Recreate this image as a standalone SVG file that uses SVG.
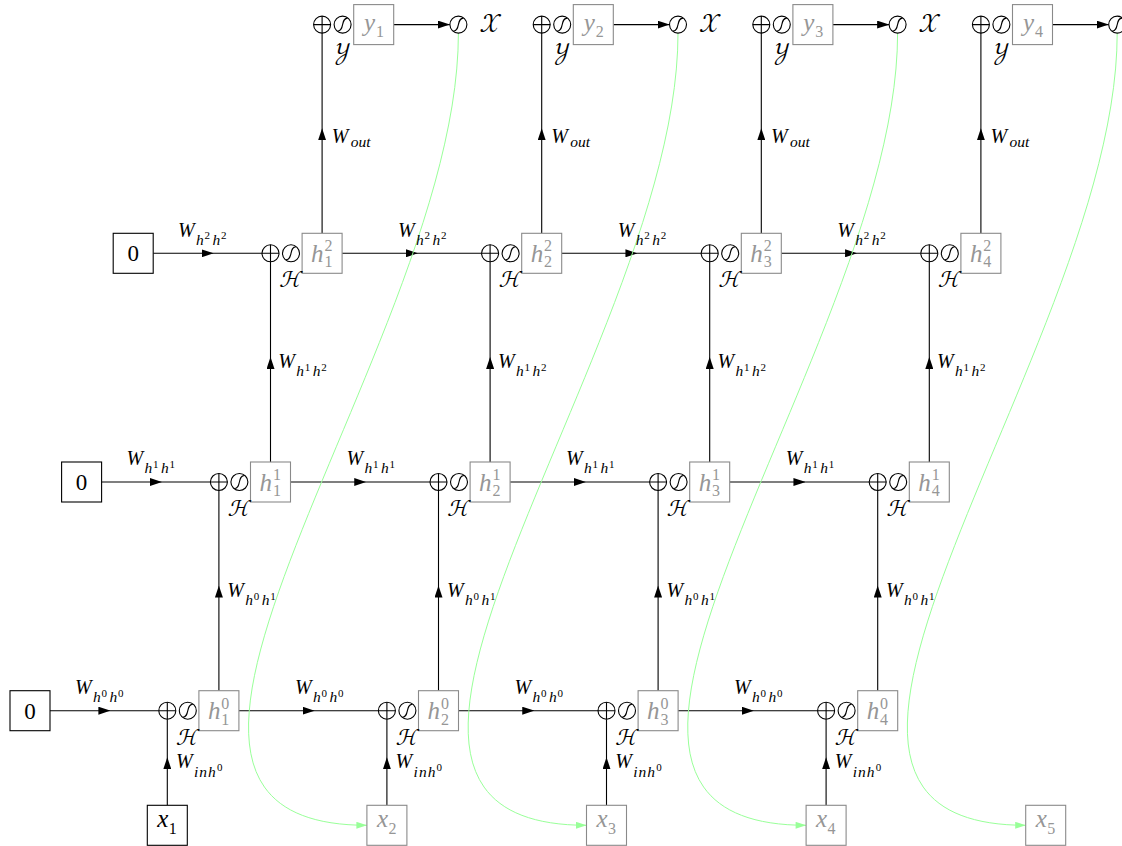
<svg xmlns="http://www.w3.org/2000/svg" xmlns:xlink="http://www.w3.org/1999/xlink" width="1122" height="846" viewBox="0 0 1122 846">
<style>
.ln{fill:none;stroke:#000;stroke-width:1.1}
.gr{fill:none;stroke:#99ff99;stroke-width:1}
.gb{fill:#fff;stroke:#8a8a8a;stroke-width:1.1}
.kb{fill:#fff;stroke:#000;stroke-width:1.1}
.bt{font-family:"Liberation Serif",serif;font-size:25px;font-style:italic;fill:#969696}
.bk{fill:#000}
.bs{font-size:16px;font-style:normal}
.num{font-family:"Liberation Serif",serif;font-size:23px;fill:#000}
.lb{font-family:"Liberation Serif",serif;font-size:20px;font-style:italic;fill:#000}
.ls{font-size:15.5px}
.lss{font-size:11px;font-style:normal}
.cal{font-family:"Latin Modern Math","STIX Two Math","Noto Sans Math","DejaVu Serif","DejaVu Sans",serif;font-size:23px;fill:#000}
.cal2{font-family:"Latin Modern Math","STIX Two Math","Noto Sans Math","DejaVu Serif","DejaVu Sans",serif;font-size:26px;fill:#000}
</style>
<defs>
<marker id="ah" viewBox="0 0 12 8" refX="12" refY="4" markerWidth="12" markerHeight="8" markerUnits="userSpaceOnUse" orient="auto"><path d="M0,0 L12,4 L0,8 Z" fill="#000"/></marker>
<marker id="ahg" viewBox="0 0 12 8" refX="12" refY="4" markerWidth="12" markerHeight="7" markerUnits="userSpaceOnUse" orient="auto"><path d="M0,0 L12,4 L0,8 Z" fill="#99ff99"/></marker>
<g id="plus"><circle r="8.5" fill="#fff" stroke="#000" stroke-width="1.1"/><path d="M-8.5,0 H8.5 M0,-8.5 V8.5" stroke="#000" stroke-width="1.1"/></g>
<g id="sig"><circle r="8.5" fill="#fff" stroke="#000" stroke-width="1.1"/><path d="M-5,6.5 C2.2,6.5 -2.2,-6.5 5,-6.5" fill="none" stroke="#000" stroke-width="1.1"/></g>
</defs>
<rect width="1122" height="846" fill="#fff"/>

<g id="connectors">
<polyline class="ln" marker-mid="url(#ah)" points="50,710.7 110.4,710.7 158.8,710.7"/>
<polyline class="ln" marker-mid="url(#ah)" points="238.9,710.7 314.65,710.7 378.4,710.7"/>
<polyline class="ln" marker-mid="url(#ah)" points="458.5,710.7 534.25,710.7 598,710.7"/>
<polyline class="ln" marker-mid="url(#ah)" points="678.1,710.7 753.85,710.7 817.6,710.7"/>
<polyline class="ln" marker-mid="url(#ah)" points="101.6,482 162,482 210.4,482"/>
<polyline class="ln" marker-mid="url(#ah)" points="290.5,482 366.25,482 430,482"/>
<polyline class="ln" marker-mid="url(#ah)" points="510.1,482 585.85,482 649.6,482"/>
<polyline class="ln" marker-mid="url(#ah)" points="729.7,482 805.45,482 869.2,482"/>
<polyline class="ln" marker-mid="url(#ah)" points="153.2,253.3 213.6,253.3 262,253.3"/>
<polyline class="ln" marker-mid="url(#ah)" points="342.1,253.3 417.85,253.3 481.6,253.3"/>
<polyline class="ln" marker-mid="url(#ah)" points="561.7,253.3 637.45,253.3 701.2,253.3"/>
<polyline class="ln" marker-mid="url(#ah)" points="781.3,253.3 857.05,253.3 920.8,253.3"/>
<polyline class="ln" marker-mid="url(#ah)" points="167.3,805.3 167.3,757.2 167.3,719.2"/>
<polyline class="ln" marker-mid="url(#ah)" points="386.9,805.3 386.9,757.2 386.9,719.2"/>
<polyline class="ln" marker-mid="url(#ah)" points="606.5,805.3 606.5,757.2 606.5,719.2"/>
<polyline class="ln" marker-mid="url(#ah)" points="826.1,805.3 826.1,757.2 826.1,719.2"/>
<polyline class="ln" marker-mid="url(#ah)" points="218.9,690.7 218.9,585.6 218.9,490.5"/>
<polyline class="ln" marker-mid="url(#ah)" points="438.5,690.7 438.5,585.6 438.5,490.5"/>
<polyline class="ln" marker-mid="url(#ah)" points="658.1,690.7 658.1,585.6 658.1,490.5"/>
<polyline class="ln" marker-mid="url(#ah)" points="877.7,690.7 877.7,585.6 877.7,490.5"/>
<polyline class="ln" marker-mid="url(#ah)" points="270.5,462 270.5,356.9 270.5,261.8"/>
<polyline class="ln" marker-mid="url(#ah)" points="490.1,462 490.1,356.9 490.1,261.8"/>
<polyline class="ln" marker-mid="url(#ah)" points="709.7,462 709.7,356.9 709.7,261.8"/>
<polyline class="ln" marker-mid="url(#ah)" points="929.3,462 929.3,356.9 929.3,261.8"/>
<polyline class="ln" marker-mid="url(#ah)" points="322.1,233.3 322.1,128.2 322.1,33.1"/>
<polyline class="ln" marker-mid="url(#ah)" points="541.7,233.3 541.7,128.2 541.7,33.1"/>
<polyline class="ln" marker-mid="url(#ah)" points="761.3,233.3 761.3,128.2 761.3,33.1"/>
<polyline class="ln" marker-mid="url(#ah)" points="980.9,233.3 980.9,128.2 980.9,33.1"/>
<line class="ln" marker-end="url(#ah)" x1="393.7" y1="24.6" x2="449.9" y2="24.6"/>
<line class="ln" marker-end="url(#ah)" x1="613.3" y1="24.6" x2="669.5" y2="24.6"/>
<line class="ln" marker-end="url(#ah)" x1="832.9" y1="24.6" x2="889.1" y2="24.6"/>
<line class="ln" marker-end="url(#ah)" x1="1052.5" y1="24.6" x2="1108.7" y2="24.6"/>
<path class="gr" marker-end="url(#ahg)" d="M458.4,33.1 C458.4,345 54.9,825.3 366.9,825.3"/>
<path class="gr" marker-end="url(#ahg)" d="M678,33.1 C678,345 274.5,825.3 586.5,825.3"/>
<path class="gr" marker-end="url(#ahg)" d="M897.6,33.1 C897.6,345 494.1,825.3 806.1,825.3"/>
<path class="gr" marker-end="url(#ahg)" d="M1117.2,33.1 C1117.2,345 713.7,825.3 1025.7,825.3"/>

<text class="lb" transform="translate(74.9,694.1)"><tspan x="0" y="0">W</tspan><tspan class="ls" x="18" y="8">h</tspan><tspan class="lss" x="26.5" y="2.5">0</tspan><tspan class="ls" x="34.5" y="8">h</tspan><tspan class="lss" x="43" y="2.5">0</tspan></text>
<text class="lb" transform="translate(294.9,694.1)"><tspan x="0" y="0">W</tspan><tspan class="ls" x="18" y="8">h</tspan><tspan class="lss" x="26.5" y="2.5">0</tspan><tspan class="ls" x="34.5" y="8">h</tspan><tspan class="lss" x="43" y="2.5">0</tspan></text>
<text class="lb" transform="translate(514.5,694.1)"><tspan x="0" y="0">W</tspan><tspan class="ls" x="18" y="8">h</tspan><tspan class="lss" x="26.5" y="2.5">0</tspan><tspan class="ls" x="34.5" y="8">h</tspan><tspan class="lss" x="43" y="2.5">0</tspan></text>
<text class="lb" transform="translate(734.1,694.1)"><tspan x="0" y="0">W</tspan><tspan class="ls" x="18" y="8">h</tspan><tspan class="lss" x="26.5" y="2.5">0</tspan><tspan class="ls" x="34.5" y="8">h</tspan><tspan class="lss" x="43" y="2.5">0</tspan></text>
<text class="lb" transform="translate(126.5,465.4)"><tspan x="0" y="0">W</tspan><tspan class="ls" x="18" y="8">h</tspan><tspan class="lss" x="26.5" y="2.5">1</tspan><tspan class="ls" x="34.5" y="8">h</tspan><tspan class="lss" x="43" y="2.5">1</tspan></text>
<text class="lb" transform="translate(346.5,465.4)"><tspan x="0" y="0">W</tspan><tspan class="ls" x="18" y="8">h</tspan><tspan class="lss" x="26.5" y="2.5">1</tspan><tspan class="ls" x="34.5" y="8">h</tspan><tspan class="lss" x="43" y="2.5">1</tspan></text>
<text class="lb" transform="translate(566.1,465.4)"><tspan x="0" y="0">W</tspan><tspan class="ls" x="18" y="8">h</tspan><tspan class="lss" x="26.5" y="2.5">1</tspan><tspan class="ls" x="34.5" y="8">h</tspan><tspan class="lss" x="43" y="2.5">1</tspan></text>
<text class="lb" transform="translate(785.7,465.4)"><tspan x="0" y="0">W</tspan><tspan class="ls" x="18" y="8">h</tspan><tspan class="lss" x="26.5" y="2.5">1</tspan><tspan class="ls" x="34.5" y="8">h</tspan><tspan class="lss" x="43" y="2.5">1</tspan></text>
<text class="lb" transform="translate(178.1,236.7)"><tspan x="0" y="0">W</tspan><tspan class="ls" x="18" y="8">h</tspan><tspan class="lss" x="26.5" y="2.5">2</tspan><tspan class="ls" x="34.5" y="8">h</tspan><tspan class="lss" x="43" y="2.5">2</tspan></text>
<text class="lb" transform="translate(398.1,236.7)"><tspan x="0" y="0">W</tspan><tspan class="ls" x="18" y="8">h</tspan><tspan class="lss" x="26.5" y="2.5">2</tspan><tspan class="ls" x="34.5" y="8">h</tspan><tspan class="lss" x="43" y="2.5">2</tspan></text>
<text class="lb" transform="translate(617.7,236.7)"><tspan x="0" y="0">W</tspan><tspan class="ls" x="18" y="8">h</tspan><tspan class="lss" x="26.5" y="2.5">2</tspan><tspan class="ls" x="34.5" y="8">h</tspan><tspan class="lss" x="43" y="2.5">2</tspan></text>
<text class="lb" transform="translate(837.3,236.7)"><tspan x="0" y="0">W</tspan><tspan class="ls" x="18" y="8">h</tspan><tspan class="lss" x="26.5" y="2.5">2</tspan><tspan class="ls" x="34.5" y="8">h</tspan><tspan class="lss" x="43" y="2.5">2</tspan></text>

<text class="lb" transform="translate(176,768.3)"><tspan x="0" y="0">W</tspan><tspan class="ls" x="18" y="8.4" letter-spacing="1">inh</tspan><tspan class="lss" x="41" y="3">0</tspan></text>
<text class="lb" transform="translate(395.6,768.3)"><tspan x="0" y="0">W</tspan><tspan class="ls" x="18" y="8.4" letter-spacing="1">inh</tspan><tspan class="lss" x="41" y="3">0</tspan></text>
<text class="lb" transform="translate(615.2,768.3)"><tspan x="0" y="0">W</tspan><tspan class="ls" x="18" y="8.4" letter-spacing="1">inh</tspan><tspan class="lss" x="41" y="3">0</tspan></text>
<text class="lb" transform="translate(834.8,768.3)"><tspan x="0" y="0">W</tspan><tspan class="ls" x="18" y="8.4" letter-spacing="1">inh</tspan><tspan class="lss" x="41" y="3">0</tspan></text>
<text class="lb" transform="translate(227.3,596.6)"><tspan x="0" y="0">W</tspan><tspan class="ls" x="18" y="8.5">h</tspan><tspan class="lss" x="26.5" y="3">0</tspan><tspan class="ls" x="34.5" y="8.5">h</tspan><tspan class="lss" x="43" y="3">1</tspan></text>
<text class="lb" transform="translate(446.9,596.6)"><tspan x="0" y="0">W</tspan><tspan class="ls" x="18" y="8.5">h</tspan><tspan class="lss" x="26.5" y="3">0</tspan><tspan class="ls" x="34.5" y="8.5">h</tspan><tspan class="lss" x="43" y="3">1</tspan></text>
<text class="lb" transform="translate(666.5,596.6)"><tspan x="0" y="0">W</tspan><tspan class="ls" x="18" y="8.5">h</tspan><tspan class="lss" x="26.5" y="3">0</tspan><tspan class="ls" x="34.5" y="8.5">h</tspan><tspan class="lss" x="43" y="3">1</tspan></text>
<text class="lb" transform="translate(886.1,596.6)"><tspan x="0" y="0">W</tspan><tspan class="ls" x="18" y="8.5">h</tspan><tspan class="lss" x="26.5" y="3">0</tspan><tspan class="ls" x="34.5" y="8.5">h</tspan><tspan class="lss" x="43" y="3">1</tspan></text>
<text class="lb" transform="translate(278.3,367.9)"><tspan x="0" y="0">W</tspan><tspan class="ls" x="18" y="8.5">h</tspan><tspan class="lss" x="26.5" y="3">1</tspan><tspan class="ls" x="34.5" y="8.5">h</tspan><tspan class="lss" x="43" y="3">2</tspan></text>
<text class="lb" transform="translate(497.9,367.9)"><tspan x="0" y="0">W</tspan><tspan class="ls" x="18" y="8.5">h</tspan><tspan class="lss" x="26.5" y="3">1</tspan><tspan class="ls" x="34.5" y="8.5">h</tspan><tspan class="lss" x="43" y="3">2</tspan></text>
<text class="lb" transform="translate(717.5,367.9)"><tspan x="0" y="0">W</tspan><tspan class="ls" x="18" y="8.5">h</tspan><tspan class="lss" x="26.5" y="3">1</tspan><tspan class="ls" x="34.5" y="8.5">h</tspan><tspan class="lss" x="43" y="3">2</tspan></text>
<text class="lb" transform="translate(937.1,367.9)"><tspan x="0" y="0">W</tspan><tspan class="ls" x="18" y="8.5">h</tspan><tspan class="lss" x="26.5" y="3">1</tspan><tspan class="ls" x="34.5" y="8.5">h</tspan><tspan class="lss" x="43" y="3">2</tspan></text>
<text class="lb" transform="translate(331.7,143.3)"><tspan x="0" y="0">W</tspan><tspan class="ls" x="19" y="3.5">out</tspan></text>
<text class="lb" transform="translate(551.3,143.3)"><tspan x="0" y="0">W</tspan><tspan class="ls" x="19" y="3.5">out</tspan></text>
<text class="lb" transform="translate(770.9,143.3)"><tspan x="0" y="0">W</tspan><tspan class="ls" x="19" y="3.5">out</tspan></text>
<text class="lb" transform="translate(990.5,143.3)"><tspan x="0" y="0">W</tspan><tspan class="ls" x="19" y="3.5">out</tspan></text>
</g>

<g id="zero0" transform="translate(30,710.7)"><rect class="kb" x="-20" y="-20" width="40" height="40"/><text class="num" x="0" y="8" text-anchor="middle">0</text></g>
<g id="zero1" transform="translate(81.6,482)"><rect class="kb" x="-20" y="-20" width="40" height="40"/><text class="num" x="0" y="8" text-anchor="middle">0</text></g>
<g id="zero2" transform="translate(133.2,253.3)"><rect class="kb" x="-20" y="-20" width="40" height="40"/><text class="num" x="0" y="8" text-anchor="middle">0</text></g>

<g id="x1" transform="translate(167.3,825.3)"><rect class="kb" x="-20" y="-20" width="40" height="40"/><text class="bt bk"><tspan x="-10" y="2">x</tspan><tspan class="bs" x="1.5" y="9">1</tspan></text></g>
<g id="x2" transform="translate(386.9,825.3)"><rect class="gb" x="-20" y="-20" width="40" height="40"/><text class="bt"><tspan x="-10" y="2">x</tspan><tspan class="bs" x="1.5" y="9">2</tspan></text></g>
<g id="x3" transform="translate(606.5,825.3)"><rect class="gb" x="-20" y="-20" width="40" height="40"/><text class="bt"><tspan x="-10" y="2">x</tspan><tspan class="bs" x="1.5" y="9">3</tspan></text></g>
<g id="x4" transform="translate(826.1,825.3)"><rect class="gb" x="-20" y="-20" width="40" height="40"/><text class="bt"><tspan x="-10" y="2">x</tspan><tspan class="bs" x="1.5" y="9">4</tspan></text></g>
<g id="x5" transform="translate(1045.7,825.3)"><rect class="gb" x="-20" y="-20" width="40" height="40"/><text class="bt"><tspan x="-10" y="2">x</tspan><tspan class="bs" x="1.5" y="9">5</tspan></text></g>

<g id="h0_1" transform="translate(167.3,710.7)"><use href="#plus"/><use href="#sig" x="20.5"/><rect class="gb" x="31.6" y="-20" width="40" height="40"/><text class="bt"><tspan x="40.6" y="8.5">h</tspan><tspan class="bs" x="54" y="-2">0</tspan><tspan class="bs" x="54" y="14">1</tspan></text><text class="cal" x="21" y="34" text-anchor="middle">ℋ</text></g>
<g id="h0_2" transform="translate(386.9,710.7)"><use href="#plus"/><use href="#sig" x="20.5"/><rect class="gb" x="31.6" y="-20" width="40" height="40"/><text class="bt"><tspan x="40.6" y="8.5">h</tspan><tspan class="bs" x="54" y="-2">0</tspan><tspan class="bs" x="54" y="14">2</tspan></text><text class="cal" x="21" y="34" text-anchor="middle">ℋ</text></g>
<g id="h0_3" transform="translate(606.5,710.7)"><use href="#plus"/><use href="#sig" x="20.5"/><rect class="gb" x="31.6" y="-20" width="40" height="40"/><text class="bt"><tspan x="40.6" y="8.5">h</tspan><tspan class="bs" x="54" y="-2">0</tspan><tspan class="bs" x="54" y="14">3</tspan></text><text class="cal" x="21" y="34" text-anchor="middle">ℋ</text></g>
<g id="h0_4" transform="translate(826.1,710.7)"><use href="#plus"/><use href="#sig" x="20.5"/><rect class="gb" x="31.6" y="-20" width="40" height="40"/><text class="bt"><tspan x="40.6" y="8.5">h</tspan><tspan class="bs" x="54" y="-2">0</tspan><tspan class="bs" x="54" y="14">4</tspan></text><text class="cal" x="21" y="34" text-anchor="middle">ℋ</text></g>

<g id="h1_1" transform="translate(218.9,482)"><use href="#plus"/><use href="#sig" x="20.5"/><rect class="gb" x="31.6" y="-20" width="40" height="40"/><text class="bt"><tspan x="40.6" y="8.5">h</tspan><tspan class="bs" x="54" y="-2">1</tspan><tspan class="bs" x="54" y="14">1</tspan></text><text class="cal" x="21" y="34" text-anchor="middle">ℋ</text></g>
<g id="h1_2" transform="translate(438.5,482)"><use href="#plus"/><use href="#sig" x="20.5"/><rect class="gb" x="31.6" y="-20" width="40" height="40"/><text class="bt"><tspan x="40.6" y="8.5">h</tspan><tspan class="bs" x="54" y="-2">1</tspan><tspan class="bs" x="54" y="14">2</tspan></text><text class="cal" x="21" y="34" text-anchor="middle">ℋ</text></g>
<g id="h1_3" transform="translate(658.1,482)"><use href="#plus"/><use href="#sig" x="20.5"/><rect class="gb" x="31.6" y="-20" width="40" height="40"/><text class="bt"><tspan x="40.6" y="8.5">h</tspan><tspan class="bs" x="54" y="-2">1</tspan><tspan class="bs" x="54" y="14">3</tspan></text><text class="cal" x="21" y="34" text-anchor="middle">ℋ</text></g>
<g id="h1_4" transform="translate(877.7,482)"><use href="#plus"/><use href="#sig" x="20.5"/><rect class="gb" x="31.6" y="-20" width="40" height="40"/><text class="bt"><tspan x="40.6" y="8.5">h</tspan><tspan class="bs" x="54" y="-2">1</tspan><tspan class="bs" x="54" y="14">4</tspan></text><text class="cal" x="21" y="34" text-anchor="middle">ℋ</text></g>

<g id="h2_1" transform="translate(270.5,253.3)"><use href="#plus"/><use href="#sig" x="20.5"/><rect class="gb" x="31.6" y="-20" width="40" height="40"/><text class="bt"><tspan x="40.6" y="8.5">h</tspan><tspan class="bs" x="54" y="-2">2</tspan><tspan class="bs" x="54" y="14">1</tspan></text><text class="cal" x="21" y="34" text-anchor="middle">ℋ</text></g>
<g id="h2_2" transform="translate(490.1,253.3)"><use href="#plus"/><use href="#sig" x="20.5"/><rect class="gb" x="31.6" y="-20" width="40" height="40"/><text class="bt"><tspan x="40.6" y="8.5">h</tspan><tspan class="bs" x="54" y="-2">2</tspan><tspan class="bs" x="54" y="14">2</tspan></text><text class="cal" x="21" y="34" text-anchor="middle">ℋ</text></g>
<g id="h2_3" transform="translate(709.7,253.3)"><use href="#plus"/><use href="#sig" x="20.5"/><rect class="gb" x="31.6" y="-20" width="40" height="40"/><text class="bt"><tspan x="40.6" y="8.5">h</tspan><tspan class="bs" x="54" y="-2">2</tspan><tspan class="bs" x="54" y="14">3</tspan></text><text class="cal" x="21" y="34" text-anchor="middle">ℋ</text></g>
<g id="h2_4" transform="translate(929.3,253.3)"><use href="#plus"/><use href="#sig" x="20.5"/><rect class="gb" x="31.6" y="-20" width="40" height="40"/><text class="bt"><tspan x="40.6" y="8.5">h</tspan><tspan class="bs" x="54" y="-2">2</tspan><tspan class="bs" x="54" y="14">4</tspan></text><text class="cal" x="21" y="34" text-anchor="middle">ℋ</text></g>

<g id="y1" transform="translate(322.1,24.6)"><use href="#plus"/><use href="#sig" x="20.5"/><rect class="gb" x="31.6" y="-20" width="40" height="40"/><text class="bt"><tspan x="42" y="6">y</tspan><tspan class="bs" x="54" y="12">1</tspan></text><text class="cal2" x="20.5" y="36" text-anchor="middle">𝒴</text></g>
<g id="y2" transform="translate(541.7,24.6)"><use href="#plus"/><use href="#sig" x="20.5"/><rect class="gb" x="31.6" y="-20" width="40" height="40"/><text class="bt"><tspan x="42" y="6">y</tspan><tspan class="bs" x="54" y="12">2</tspan></text><text class="cal2" x="20.5" y="36" text-anchor="middle">𝒴</text></g>
<g id="y3" transform="translate(761.3,24.6)"><use href="#plus"/><use href="#sig" x="20.5"/><rect class="gb" x="31.6" y="-20" width="40" height="40"/><text class="bt"><tspan x="42" y="6">y</tspan><tspan class="bs" x="54" y="12">3</tspan></text><text class="cal2" x="20.5" y="36" text-anchor="middle">𝒴</text></g>
<g id="y4" transform="translate(980.9,24.6)"><use href="#plus"/><use href="#sig" x="20.5"/><rect class="gb" x="31.6" y="-20" width="40" height="40"/><text class="bt"><tspan x="42" y="6">y</tspan><tspan class="bs" x="54" y="12">4</tspan></text><text class="cal2" x="20.5" y="36" text-anchor="middle">𝒴</text></g>

<g id="X1" transform="translate(458.4,24.6)"><use href="#sig"/><text class="cal2" x="21" y="7.5">𝒳</text></g>
<g id="X2" transform="translate(678,24.6)"><use href="#sig"/><text class="cal2" x="21" y="7.5">𝒳</text></g>
<g id="X3" transform="translate(897.6,24.6)"><use href="#sig"/><text class="cal2" x="21" y="7.5">𝒳</text></g>
<g id="X4" transform="translate(1117.2,24.6)"><use href="#sig"/></g>
</svg>
